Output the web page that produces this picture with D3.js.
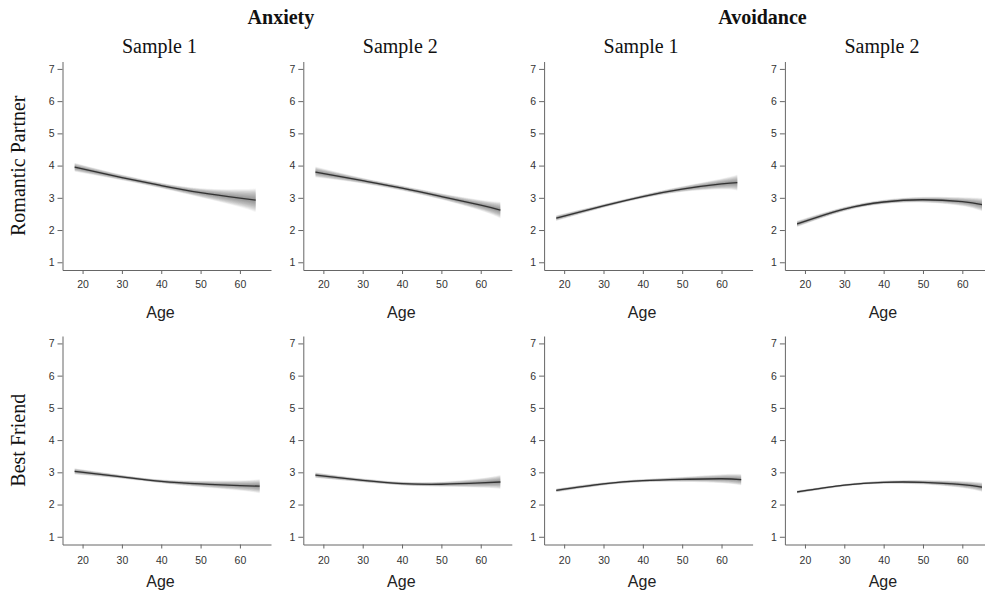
<!DOCTYPE html>
<html>
<head>
<meta charset="utf-8">
<script src="https://cdn.jsdelivr.net/npm/d3@7/dist/d3.min.js"></script>
<style>
  body { margin: 0; background: #fff; }
  .tick text { font-family: "Liberation Sans", Arial, sans-serif; font-size: 10.5px; fill: #333; }
  .tick line, .domain { stroke: #666; }
</style>
</head>
<body>
<div id="chart"></div>
<script>
const agesS1 = [18, 30, 40, 50, 60, 64];
const agesS2 = [18, 30, 40, 50, 60, 65];
const agesBF = [18, 30, 40, 50, 60, 65];

// Romantic partner - anxiety
const anxRomS1 = [3.95, 3.63, 3.38, 3.16, 2.99, 2.93];
const anxRomS1Lo = [3.81, 3.54, 3.29, 3.01, 2.71, 2.55];
const anxRomS1Hi = [4.09, 3.72, 3.47, 3.30, 3.27, 3.30];
const anxRomS2 = [3.80, 3.53, 3.30, 3.04, 2.77, 2.62];
const anxRomS2Lo = [3.63, 3.44, 3.22, 2.94, 2.60, 2.36];
const anxRomS2Hi = [3.97, 3.62, 3.38, 3.14, 2.94, 2.88];
// Romantic partner - avoidance
const avoRomS1 = [2.37, 2.75, 3.04, 3.27, 3.43, 3.47];
const avoRomS1Lo = [2.28, 2.69, 2.98, 3.18, 3.26, 3.22];
const avoRomS1Hi = [2.46, 2.81, 3.10, 3.36, 3.60, 3.72];
const avoRomS2 = [2.19, 2.65, 2.87, 2.94, 2.88, 2.79];
const avoRomS2Lo = [2.09, 2.58, 2.80, 2.85, 2.74, 2.58];
const avoRomS2Hi = [2.29, 2.72, 2.94, 3.03, 3.02, 3.00];
// Best friend - anxiety
const anxBfS1 = [3.03, 2.86, 2.72, 2.64, 2.59, 2.57];
const anxBfS1Lo = [2.93, 2.80, 2.66, 2.54, 2.43, 2.35];
const anxBfS1Hi = [3.13, 2.92, 2.78, 2.74, 2.75, 2.79];
const anxBfS2 = [2.91, 2.75, 2.65, 2.63, 2.67, 2.70];
const anxBfS2Lo = [2.82, 2.69, 2.59, 2.55, 2.52, 2.48];
const anxBfS2Hi = [3.00, 2.81, 2.71, 2.71, 2.82, 2.92];
// Best friend - avoidance
const avoBfS1 = [2.44, 2.64, 2.74, 2.78, 2.80, 2.77];
const avoBfS1Lo = [2.38, 2.59, 2.69, 2.70, 2.66, 2.59];
const avoBfS1Hi = [2.50, 2.69, 2.79, 2.86, 2.94, 2.95];
const avoBfS2 = [2.39, 2.60, 2.69, 2.69, 2.62, 2.54];
const avoBfS2Lo = [2.34, 2.56, 2.64, 2.62, 2.51, 2.39];
const avoBfS2Hi = [2.44, 2.64, 2.74, 2.76, 2.73, 2.69];

const xTicks = [20, 30, 40, 50, 60];
const yTicks = [1, 2, 3, 4, 5, 6, 7];
const constructs = ["Anxiety", "Avoidance"];
const samples = ["Sample 1", "Sample 2", "Sample 1", "Sample 2"];
const rowLabels = ["Romantic Partner", "Best Friend"];

// panel table built from the arrays above (row, col)
const panels = [
  [agesS1, anxRomS1, anxRomS1Lo, anxRomS1Hi],
  [agesS2, anxRomS2, anxRomS2Lo, anxRomS2Hi],
  [agesS1, avoRomS1, avoRomS1Lo, avoRomS1Hi],
  [agesS2, avoRomS2, avoRomS2Lo, avoRomS2Hi],
  [agesBF, anxBfS1, anxBfS1Lo, anxBfS1Hi],
  [agesBF, anxBfS2, anxBfS2Lo, anxBfS2Hi],
  [agesBF, avoBfS1, avoBfS1Lo, avoBfS1Hi],
  [agesBF, avoBfS2, avoBfS2Lo, avoBfS2Hi]
].map((p, i) => ({
  row: Math.floor(i / 4), col: i % 4,
  pts: p[0].map((a, j) => ({ age: a, m: p[1][j], lo: p[2][j], hi: p[3][j] }))
}));

const W = 985, H = 594;
const pw = 208.5, ph = 208.5;
const colX = c => 62.5 + c * 240.8;
const rowY = r => 61.5 + r * 274.5;

const svg = d3.select("#chart").append("svg").attr("width", W).attr("height", H);

const x = d3.scaleLinear().domain([14.9, 67.9]).range([0, pw]);
const y = d3.scaleLinear().domain([0.76, 7.23]).range([ph, 0]);

const serif = "'Liberation Serif', 'Times New Roman', serif";
const sans = "'Liberation Sans', Arial, sans-serif";

// headers
constructs.forEach((t, i) => {
  svg.append("text")
    .attr("x", (colX(i * 2) + colX(i * 2 + 1)) / 2 + 98)
    .attr("y", 23.5)
    .attr("text-anchor", "middle")
    .attr("font-family", serif).attr("font-weight", "bold").attr("font-size", 20)
    .attr("fill", "#111")
    .text(t);
});
samples.forEach((t, i) => {
  svg.append("text")
    .attr("x", colX(i) + 97)
    .attr("y", 52.5)
    .attr("text-anchor", "middle")
    .attr("font-family", serif).attr("font-size", 20)
    .attr("fill", "#111")
    .text(t);
});
rowLabels.forEach((t, r) => {
  svg.append("text")
    .attr("transform", `translate(25,${rowY(r) + ph / 2}) rotate(-90)`)
    .attr("text-anchor", "middle")
    .attr("font-family", serif).attr("font-size", 20)
    .attr("fill", "#111")
    .text(t);
});

const nLayers = 24;

panels.forEach(p => {
  const g = svg.append("g").attr("transform", `translate(${colX(p.col)},${rowY(p.row)})`);

  // y axis
  g.append("g")
    .call(d3.axisLeft(y).tickValues(yTicks).tickFormat(d3.format("d"))
      .tickSize(5).tickSizeOuter(0).tickPadding(3));
  // x axis
  g.append("g").attr("transform", `translate(0,${ph})`)
    .call(d3.axisBottom(x).tickValues(xTicks).tickFormat(d3.format("d"))
      .tickSize(4).tickSizeOuter(0).tickPadding(p.row === 0 ? 7 : 8.5));

  // confidence band, stacked so it darkens toward the fitted line
  for (let k = nLayers; k >= 1; k--) {
    const f = k / nLayers;
    const area = d3.area()
      .curve(d3.curveNatural)
      .x(d => x(d.age))
      .y0(d => y(d.m + (d.lo - d.m) * f))
      .y1(d => y(d.m + (d.hi - d.m) * f));
    g.append("path")
      .attr("d", area(p.pts))
      .attr("fill", "#555")
      .attr("fill-opacity", 0.035);
  }

  const line = d3.line().curve(d3.curveNatural).x(d => x(d.age)).y(d => y(d.m));
  g.append("path")
    .attr("d", line(p.pts))
    .attr("fill", "none")
    .attr("stroke", "#333")
    .attr("stroke-width", 1.3);

  g.append("text")
    .attr("x", 98)
    .attr("y", p.row === 0 ? 256 : 251)
    .attr("text-anchor", "middle")
    .attr("font-family", sans).attr("font-size", 16)
    .attr("fill", "#222")
    .text("Age");
});
</script>
</body>
</html>
